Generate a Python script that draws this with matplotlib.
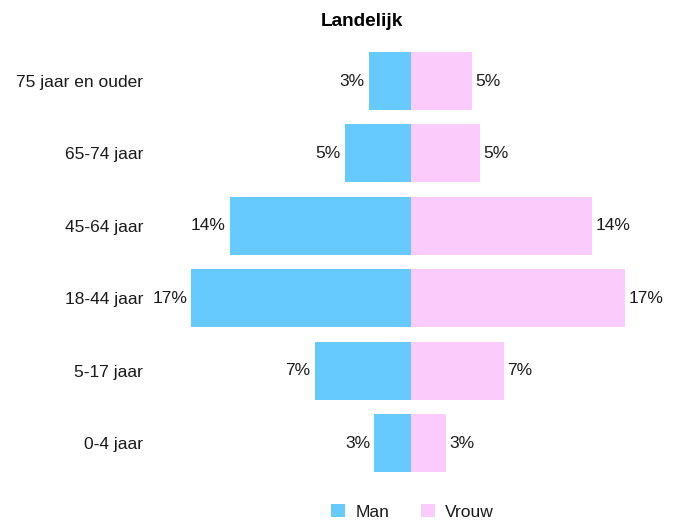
import matplotlib
matplotlib.use("Agg")
import matplotlib.pyplot as plt
from matplotlib.patches import Patch

plt.rcParams['font.family'] = ['Liberation Sans', 'DejaVu Sans']

categories = ["0-4 jaar", "5-17 jaar", "18-44 jaar", "45-64 jaar", "65-74 jaar", "75 jaar en ouder"]
man = [2.85, 7.45, 17.0, 14.0, 5.1, 3.25]
vrouw = [2.7, 7.2, 16.55, 14.0, 5.35, 4.7]
title = "Landelijk"
series_names = ["Man", "Vrouw"]

c_man = "#66CAFE"
c_vrouw = "#FACBFB"
txt = "#1a1a1a"

fig = plt.figure(figsize=(6.73, 5.2), dpi=100)
ax = fig.add_axes([150/673, (520-479.2)/520, 522/673, (479.2-44.8)/520])

y = list(range(len(categories)))
ax.barh(y, [-m for m in man], height=0.8, color=c_man, linewidth=0)
ax.barh(y, vrouw, height=0.8, color=c_vrouw, linewidth=0)

for yi, m, v in zip(y, man, vrouw):
    ax.annotate(f"{round(m)}%", (-m, yi), xytext=(-3, 0), textcoords="offset points",
                ha="right", va="center", fontsize=12.5, color=txt)
    ax.annotate(f"{round(v)}%", (v, yi), xytext=(2.5, 0), textcoords="offset points",
                ha="left", va="center", fontsize=12.5, color=txt)

ax.set_xlim(-20.19, 20.19)
ax.set_ylim(-0.5, len(categories) - 0.5)
ax.set_yticks(y)
ax.set_yticklabels(categories, fontsize=12.5, color=txt)
ax.tick_params(axis="y", length=0, pad=5)
ax.set_xticks([])
for s in ax.spines.values():
    s.set_visible(False)

fig.text(362/673, 1 - 26/520, title, ha="center", va="baseline", fontsize=13.7,
         fontweight="bold", color="black")

handles = [Patch(facecolor=c_man, edgecolor="none"), Patch(facecolor=c_vrouw, edgecolor="none")]
fig.legend(handles, series_names, loc="center", bbox_to_anchor=(412.5/673, 1 - 512/520),
           ncol=2, frameon=False, fontsize=12.5, handlelength=0.8, handleheight=0.8,
           handletextpad=0.575, columnspacing=1.84, borderpad=0, labelcolor=txt)

fig.savefig("out.png", dpi=100)
